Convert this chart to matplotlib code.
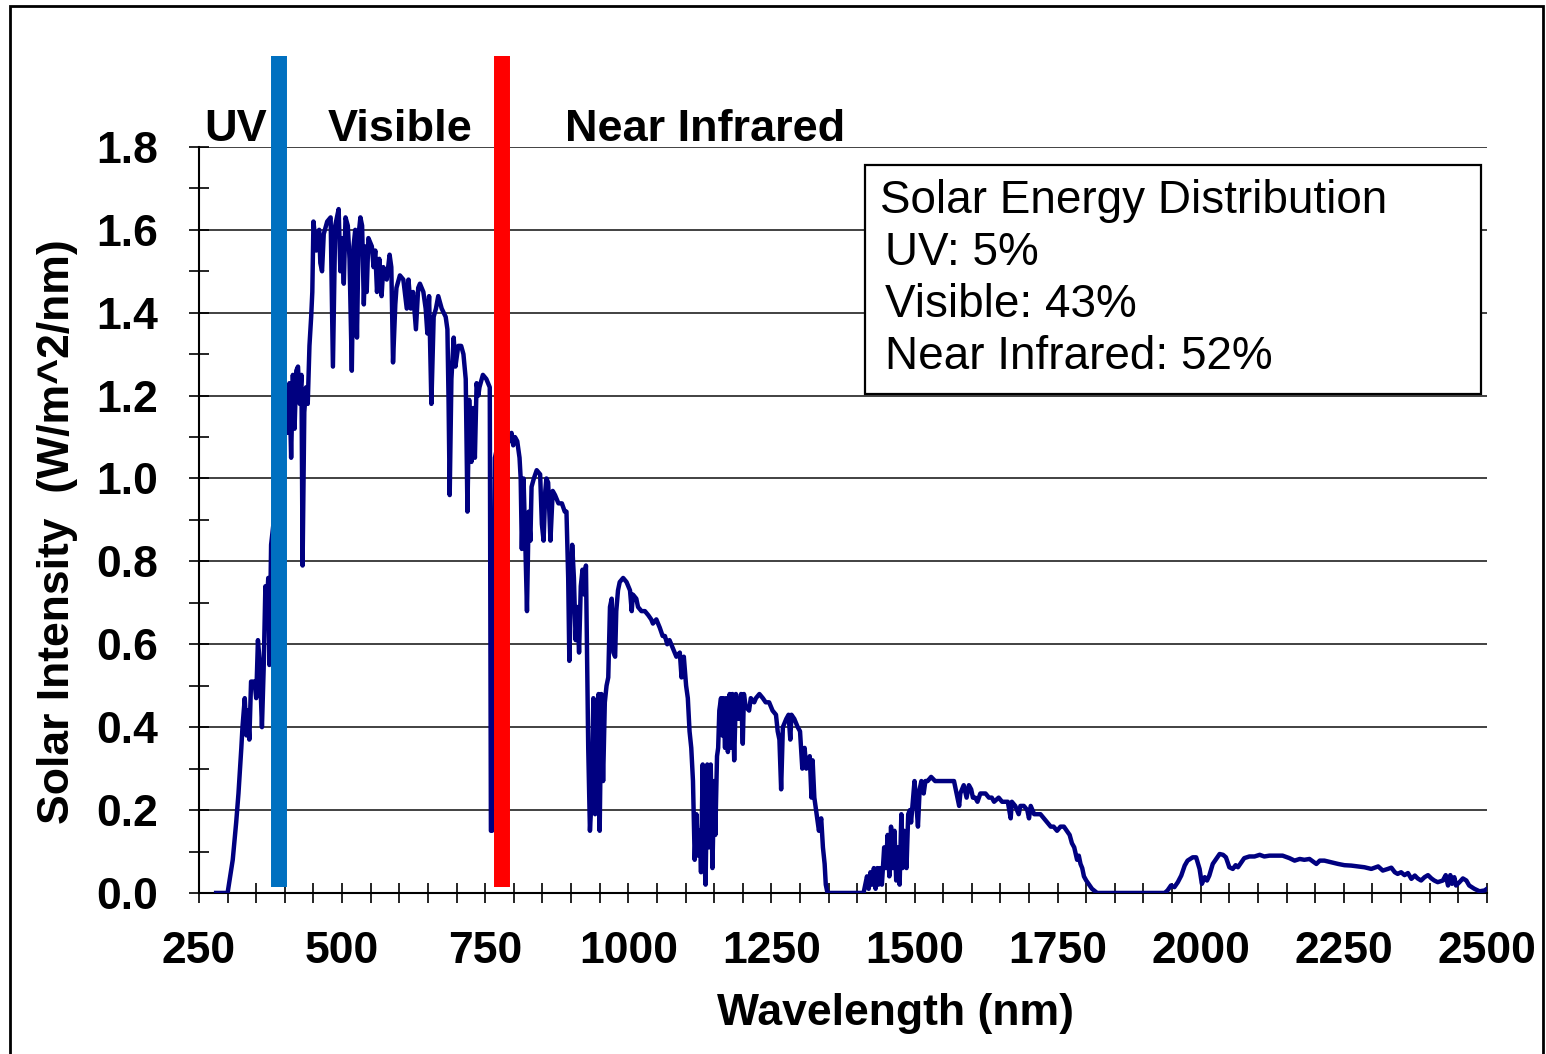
import matplotlib.pyplot as plt
from matplotlib.patches import Rectangle
from matplotlib.ticker import MultipleLocator
import matplotlib.transforms as mtransforms

plt.rcParams['font.family'] = ['Liberation Sans', 'DejaVu Sans']
plt.rcParams['font.weight'] = 'bold'

# solar spectrum (nm, W/m^2/nm)
wavelength = [
    280, 300, 309, 315, 319, 324, 326, 330, 333, 335, 338, 341, 347, 350, 353, 356, 360, 363, 366, 369,
    371, 373, 376, 385, 393, 398, 402, 405, 408, 411, 414, 417, 420, 423, 426, 429, 431, 434, 437, 440,
    443, 446, 448, 450, 455, 457, 460, 462, 465, 468, 474, 480, 484, 488, 494, 497, 500, 503, 506, 510,
    513, 517, 520, 523, 526, 529, 532, 535, 538, 541, 543, 546, 552, 555, 558, 561, 565, 569, 572, 578,
    583, 586, 589, 593, 595, 601, 607, 613, 616, 620, 624, 629, 633, 636, 642, 646, 649, 652, 656, 660,
    664, 668, 674, 681, 684, 686, 688, 691, 695, 698, 703, 708, 712, 716, 719, 722, 726, 729, 732, 735,
    738, 740, 746, 752, 758, 760, 762, 767, 775, 785, 793, 796, 799, 802, 806, 810, 812, 814, 817, 820,
    823, 826, 829, 831, 835, 840, 846, 849, 852, 855, 857, 860, 864, 868, 872, 878, 884, 889, 892, 895,
    897, 899, 902, 905, 908, 911, 914, 917, 920, 923, 926, 928, 930, 933, 936, 939, 942, 945, 948, 950,
    953, 956, 959, 962, 965, 968, 971, 974, 977, 979, 982, 985, 991, 997, 1003, 1006, 1008, 1014, 1017, 1023,
    1029, 1035, 1040, 1043, 1049, 1055, 1060, 1064, 1068, 1072, 1078, 1084, 1090, 1093, 1097, 1101, 1104, 1107, 1110, 1113,
    1116, 1119, 1122, 1125, 1127, 1130, 1132, 1135, 1138, 1141, 1144, 1147, 1150, 1152, 1155, 1157, 1159, 1162, 1164, 1166,
    1169, 1171, 1174, 1177, 1180, 1182, 1185, 1188, 1193, 1197, 1200, 1202, 1205, 1211, 1214, 1220, 1223, 1229, 1235, 1240,
    1246, 1252, 1258, 1261, 1264, 1267, 1270, 1276, 1280, 1283, 1285, 1290, 1296, 1300, 1304, 1308, 1311, 1317, 1320, 1322,
    1325, 1329, 1333, 1337, 1340, 1343, 1345, 1348, 1411, 1414, 1417, 1420, 1423, 1426, 1429, 1432, 1435, 1437, 1440, 1443,
    1447, 1450, 1453, 1456, 1459, 1462, 1465, 1468, 1471, 1474, 1477, 1479, 1482, 1486, 1489, 1492, 1494, 1497, 1500, 1503,
    1506, 1509, 1512, 1516, 1519, 1523, 1529, 1536, 1545, 1554, 1563, 1569, 1572, 1575, 1578, 1580, 1586, 1591, 1595, 1599,
    1602, 1606, 1610, 1615, 1624, 1630, 1635, 1639, 1647, 1653, 1659, 1663, 1668, 1670, 1676, 1682, 1685, 1691, 1697, 1700,
    1703, 1709, 1714, 1720, 1726, 1732, 1738, 1743, 1749, 1755, 1761, 1766, 1771, 1775, 1779, 1784, 1787, 1790, 1793, 1796,
    1800, 1805, 1810, 1819, 1937, 1942, 1948, 1954, 1960, 1966, 1972, 1977, 1986, 1992, 1998, 2002, 2007, 2011, 2015, 2021,
    2027, 2033, 2039, 2044, 2050, 2056, 2061, 2065, 2071, 2076, 2085, 2094, 2103, 2111, 2120, 2132, 2143, 2155, 2164, 2173,
    2181, 2190, 2196, 2202, 2208, 2216, 2228, 2240, 2251, 2263, 2275, 2286, 2298, 2310, 2318, 2327, 2333, 2339, 2344, 2350,
    2356, 2362, 2368, 2374, 2379, 2385, 2391, 2397, 2403, 2408, 2414, 2423, 2428, 2432, 2436, 2439, 2443, 2446, 2452, 2458,
    2464, 2469, 2478, 2487, 2496, 2500,
]
intensity = [
    0.00, 0.00, 0.08, 0.17, 0.24, 0.35, 0.40, 0.47, 0.38, 0.44, 0.37, 0.51, 0.51, 0.47, 0.61, 0.56, 0.40, 0.54, 0.74, 0.70,
    0.76, 0.55, 0.84, 0.95, 1.05, 1.15, 1.21, 1.11, 1.23, 1.05, 1.25, 1.12, 1.26, 1.27, 1.18, 1.25, 0.79, 1.16, 1.22, 1.18,
    1.32, 1.39, 1.45, 1.62, 1.55, 1.59, 1.60, 1.52, 1.50, 1.59, 1.62, 1.63, 1.27, 1.61, 1.65, 1.50, 1.58, 1.47, 1.63, 1.61,
    1.53, 1.26, 1.56, 1.60, 1.34, 1.59, 1.63, 1.61, 1.42, 1.56, 1.45, 1.58, 1.56, 1.51, 1.55, 1.45, 1.53, 1.44, 1.51, 1.48,
    1.54, 1.51, 1.28, 1.42, 1.46, 1.49, 1.48, 1.41, 1.48, 1.41, 1.45, 1.36, 1.46, 1.47, 1.45, 1.41, 1.35, 1.44, 1.18, 1.39,
    1.41, 1.44, 1.41, 1.39, 1.36, 1.19, 0.96, 1.24, 1.34, 1.27, 1.32, 1.32, 1.30, 1.24, 0.92, 1.19, 1.04, 1.17, 1.05, 1.23,
    1.20, 1.22, 1.25, 1.24, 1.22, 0.15, 0.15, 1.05, 1.10, 1.12, 1.09, 1.11, 1.08, 1.10, 1.09, 1.05, 1.00, 0.83, 1.00, 0.85,
    0.68, 0.92, 0.85, 0.98, 1.00, 1.02, 1.01, 0.89, 0.85, 0.97, 1.00, 0.99, 0.85, 0.97, 0.96, 0.94, 0.94, 0.92, 0.92, 0.76,
    0.56, 0.68, 0.84, 0.76, 0.61, 0.69, 0.58, 0.74, 0.78, 0.72, 0.79, 0.56, 0.35, 0.15, 0.23, 0.47, 0.19, 0.44, 0.48, 0.15,
    0.48, 0.27, 0.46, 0.50, 0.52, 0.69, 0.71, 0.58, 0.57, 0.68, 0.73, 0.75, 0.76, 0.75, 0.73, 0.68, 0.72, 0.71, 0.69, 0.68,
    0.68, 0.67, 0.66, 0.65, 0.66, 0.64, 0.62, 0.62, 0.60, 0.61, 0.59, 0.57, 0.58, 0.52, 0.57, 0.50, 0.47, 0.39, 0.35, 0.27,
    0.08, 0.19, 0.09, 0.15, 0.05, 0.31, 0.11, 0.02, 0.31, 0.11, 0.31, 0.06, 0.27, 0.14, 0.33, 0.35, 0.44, 0.47, 0.38, 0.47,
    0.35, 0.47, 0.34, 0.48, 0.35, 0.48, 0.32, 0.48, 0.42, 0.48, 0.36, 0.48, 0.45, 0.44, 0.47, 0.46, 0.47, 0.48, 0.47, 0.46,
    0.46, 0.44, 0.43, 0.39, 0.37, 0.25, 0.40, 0.42, 0.43, 0.37, 0.43, 0.42, 0.40, 0.39, 0.30, 0.35, 0.30, 0.33, 0.23, 0.32,
    0.23, 0.19, 0.15, 0.18, 0.11, 0.07, 0.02, 0.00, 0.00, 0.02, 0.04, 0.01, 0.05, 0.02, 0.06, 0.01, 0.06, 0.02, 0.06, 0.02,
    0.11, 0.06, 0.14, 0.04, 0.16, 0.06, 0.15, 0.03, 0.11, 0.02, 0.19, 0.06, 0.15, 0.06, 0.19, 0.20, 0.17, 0.22, 0.27, 0.22,
    0.16, 0.25, 0.27, 0.24, 0.27, 0.27, 0.28, 0.27, 0.27, 0.27, 0.27, 0.27, 0.25, 0.23, 0.21, 0.24, 0.26, 0.23, 0.26, 0.25,
    0.23, 0.23, 0.22, 0.24, 0.24, 0.23, 0.23, 0.22, 0.23, 0.22, 0.22, 0.22, 0.18, 0.22, 0.21, 0.19, 0.21, 0.21, 0.20, 0.18,
    0.21, 0.19, 0.19, 0.19, 0.18, 0.17, 0.16, 0.16, 0.15, 0.16, 0.16, 0.15, 0.14, 0.12, 0.11, 0.08, 0.09, 0.07, 0.06, 0.04,
    0.03, 0.02, 0.01, 0.00, 0.00, 0.006, 0.018, 0.014, 0.026, 0.042, 0.066, 0.078, 0.086, 0.086, 0.058, 0.022, 0.038, 0.030, 0.042, 0.070,
    0.082, 0.094, 0.092, 0.086, 0.062, 0.058, 0.067, 0.062, 0.074, 0.084, 0.088, 0.088, 0.092, 0.088, 0.090, 0.090, 0.090, 0.084, 0.078, 0.082,
    0.080, 0.082, 0.076, 0.070, 0.078, 0.078, 0.074, 0.070, 0.067, 0.066, 0.064, 0.062, 0.058, 0.064, 0.054, 0.058, 0.061, 0.050, 0.046, 0.050,
    0.043, 0.048, 0.034, 0.042, 0.035, 0.030, 0.038, 0.043, 0.035, 0.030, 0.026, 0.030, 0.043, 0.018, 0.043, 0.022, 0.038, 0.018, 0.026, 0.035,
    0.030, 0.018, 0.010, 0.004, 0.006, 0.010,
]

bands = ['UV', 'Visible', 'Near Infrared']
band_text_x = [260, 474, 889]
shares = [5, 43, 52]
band_edges = [390, 780]
edge_colors = ['#0070C0', '#FF0000']

fig = plt.figure(figsize=(15.46, 10.54), dpi=100)
ax = fig.add_axes([0.1287, 0.1528, 0.8331, 0.7078])

ax.plot(wavelength, intensity, color='#000080', lw=3.2, zorder=3)

for edge, c in zip(band_edges, edge_colors):
    ax.plot([edge, edge], [0.015, 2.02], color=c, lw=11.5, solid_capstyle='butt',
            clip_on=False, zorder=4)

ax.set_xlim(250, 2500)
ax.set_ylim(0, 1.8)
ax.xaxis.set_major_locator(MultipleLocator(250))
ax.xaxis.set_minor_locator(MultipleLocator(50))
ax.yaxis.set_major_locator(MultipleLocator(0.2))
ax.yaxis.set_minor_locator(MultipleLocator(0.1))
ax.yaxis.set_major_formatter('{x:.1f}')
ax.grid(axis='y', which='major', color='#333333', lw=1.3)
ax.set_axisbelow(True)
ax.tick_params(which='both', direction='inout', length=15, width=1.2, labelsize=32)
ax.tick_params(axis='x', pad=20)
ax.tick_params(axis='y', pad=22)
for s in ['top', 'right']:
    ax.spines[s].set_visible(False)
for s in ['bottom', 'left']:
    ax.spines[s].set_linewidth(1.5)

ax.set_xlabel('Wavelength (nm)', fontsize=32, fontweight='bold')
ax.xaxis.label.set_va('center')
ax.xaxis.set_label_coords(0.541, -0.161)
ax.set_ylabel('Solar Intensity  (W/m^2/nm)', fontsize=32, fontweight='bold')
ax.yaxis.label.set_va('center')
ax.yaxis.set_label_coords(-0.1095, 0.484)

trans = mtransforms.blended_transform_factory(ax.transData, ax.transAxes)
for name, x in zip(bands, band_text_x):
    ax.text(x, 1.008, name, transform=trans, fontsize=32.5, ha='left', va='baseline')

# energy share box
ax.add_patch(Rectangle((0.517, 0.669), 0.478, 0.307, transform=ax.transAxes,
                       fc='white', ec='black', lw=1.6, zorder=5))
lines = ['Solar Energy Distribution'] + [f'{b}: {p}%' for b, p in zip(bands, shares)]
line_x = [0.5287, 0.5326, 0.5326, 0.5326]
for i, line in enumerate(lines):
    ax.text(line_x[i], 0.9115 - i * 0.0697, line, transform=ax.transAxes, fontsize=33,
            fontweight='normal', ha='left', va='baseline', zorder=6)

fig.patches.append(Rectangle((0.0065, -0.01), 0.9915, 1.0043, transform=fig.transFigure,
                             fill=False, ec='black', lw=2))

fig.savefig('out.png', dpi=100)
